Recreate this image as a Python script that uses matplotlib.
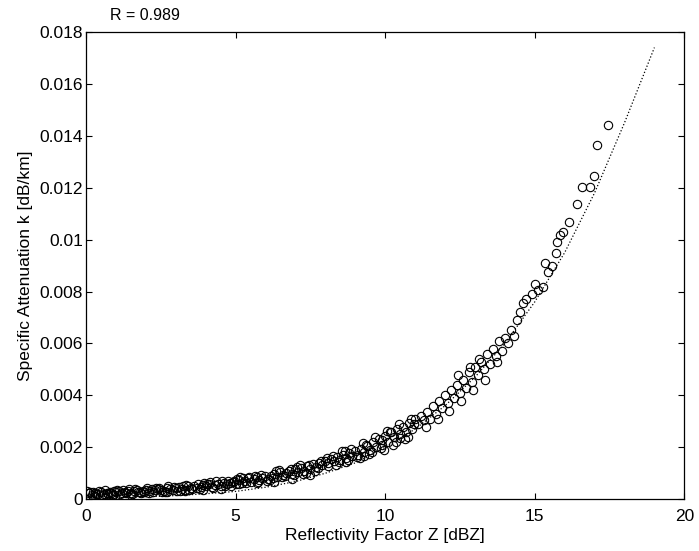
import matplotlib
matplotlib.use("Agg")
import matplotlib.pyplot as plt

plt.rcParams['font.family'] = ['Liberation Sans', 'DejaVu Sans']

z_obs = [0.1, 0.2, 0.3, 0.4, 0.5, 0.6, 0.7, 0.8, 0.9, 1.0, 1.1, 1.2, 1.3, 1.4, 1.5, 1.6, 1.7, 1.8, 1.9, 2.0,
         0.15, 0.35, 0.55, 0.75, 0.95, 1.15, 1.35, 1.55, 1.75, 1.95,
         2.1, 2.2, 2.3, 2.4, 2.5, 2.6, 2.7, 2.8, 2.9, 3.0, 3.1, 3.2, 3.3, 3.4, 3.5, 3.6, 3.7, 3.8, 3.9, 4.0,
         4.1, 4.2, 4.3, 4.4, 4.5, 4.6, 4.7, 4.8, 4.9, 5.0,
         2.25, 2.65, 3.05, 3.45, 3.85, 4.25, 4.65, 4.95, 2.45, 3.25, 4.05, 4.75,
         5.1, 5.2, 5.3, 5.4, 5.5, 5.6, 5.7, 5.8, 5.9, 6.0, 6.1, 6.2, 6.3, 6.4, 6.5, 6.6, 6.7, 6.8, 6.9, 7.0,
         7.1, 7.2, 7.3, 7.4, 7.5, 7.6, 7.7, 7.8, 7.9, 8.0,
         5.35, 5.75, 6.15, 6.55, 6.95, 7.35, 7.75, 5.15, 6.35, 7.15,
         8.1, 8.2, 8.3, 8.4, 8.5, 8.6, 8.7, 8.8, 8.9, 9.0, 9.1, 9.2, 9.3, 9.4, 9.5, 9.6, 9.7, 9.8, 9.9, 10.0,
         10.1, 10.2, 10.3, 10.4, 10.5, 10.6, 10.7, 10.8, 10.9, 11.0,
         8.35, 8.75, 9.15, 9.55, 9.95, 10.35, 10.75, 8.55, 9.35, 10.15, 10.85,
         11.1, 11.2, 11.3, 11.4, 11.5, 11.6, 11.7, 11.8, 11.9, 12.0, 12.1, 12.2, 12.3, 12.4, 12.5, 12.6,
         12.7, 12.8, 12.9, 13.0, 13.1, 13.2, 13.3, 13.4, 13.5, 13.6, 13.7, 13.8, 13.9, 14.0, 14.1, 14.2,
         11.35, 11.75, 12.15, 12.55, 12.95, 13.35, 13.75, 12.45, 12.85, 13.15,
         14.4, 14.5, 14.6, 14.7, 15.12, 15.28, 15.35, 15.45, 15.57, 15.72, 15.76, 15.85, 15.95, 16.13,
         16.41, 16.58, 16.86, 16.97, 17.08, 17.46, 14.3, 14.9, 15.0]
k_obs = [0.00022, 0.00018, 0.00025, 0.0002, 0.00027, 0.00021, 0.00024, 0.00029, 0.0002, 0.00026,
         0.00031, 0.00023, 0.00028, 0.00033, 0.00025, 0.0003, 0.00035, 0.00027, 0.00032, 0.00036,
         0.00028, 0.0002, 0.00017, 0.00021, 0.00033, 0.00019, 0.00024, 0.0002, 0.00026, 0.00028,
         0.0003, 0.00038, 0.00034, 0.00041, 0.00036, 0.00032, 0.00044, 0.00039, 0.00035, 0.00042,
         0.00047, 0.0004, 0.00037, 0.00049, 0.00044, 0.00052, 0.00045, 0.00041, 0.00055, 0.0005,
         0.00058, 0.00046, 0.00054, 0.0006, 0.00052, 0.00064, 0.00057, 0.00062, 0.00068, 0.00059,
         0.00027, 0.00029, 0.00033, 0.00036, 0.00046, 0.00043, 0.0005, 0.00072, 0.00045, 0.00051, 0.0006, 0.00071,
         0.00075, 0.00064, 0.0007, 0.00081, 0.00068, 0.00077, 0.00086, 0.00073, 0.00082, 0.00091,
         0.00078, 0.0009, 0.00098, 0.00085, 0.00104, 0.00093, 0.001, 0.0011, 0.00097, 0.00115,
         0.00105, 0.00122, 0.0011, 0.00128, 0.00118, 0.00135, 0.00125, 0.00141, 0.00132, 0.00148,
         0.00062, 0.00066, 0.00075, 0.00084, 0.00092, 0.00102, 0.0012, 0.00085, 0.0011, 0.0013,
         0.0014, 0.00155, 0.00146, 0.00162, 0.0015, 0.00172, 0.00158, 0.00178, 0.00165, 0.00185,
         0.0017, 0.00195, 0.0018, 0.00205, 0.0019, 0.0022, 0.002, 0.00232, 0.0021, 0.00245,
         0.0022, 0.00258, 0.00238, 0.0027, 0.0025, 0.0028, 0.0026, 0.00295, 0.00272, 0.0031,
         0.0013, 0.0015, 0.0016, 0.0018, 0.0019, 0.0022, 0.0024, 0.00185, 0.0021, 0.0026, 0.0031,
         0.0029, 0.0032, 0.00305, 0.00335, 0.0031, 0.0036, 0.0033, 0.0038, 0.0035, 0.004, 0.0037, 0.0042,
         0.0039, 0.0044, 0.0041, 0.0046, 0.0043, 0.0049, 0.0045, 0.0051, 0.0048, 0.0053, 0.005, 0.0056,
         0.0052, 0.0058, 0.0055, 0.0061, 0.0057, 0.0062, 0.006, 0.0065,
         0.0028, 0.0031, 0.0034, 0.0038, 0.0042, 0.0046, 0.0053, 0.0048, 0.0051, 0.0054,
         0.0069, 0.0072, 0.00755, 0.0077, 0.00806, 0.00818, 0.0091, 0.00876, 0.009, 0.00948,
         0.00992, 0.01018, 0.0103, 0.01069, 0.01137, 0.01201, 0.01204, 0.01245, 0.01364, 0.01442,
         0.0063, 0.0079, 0.0083]

# more of the dense low band (x < 11)
z_obs_low = [0.05, 0.25, 0.45, 0.65, 0.85, 1.05, 1.25, 1.45, 1.65, 1.85, 2.05, 2.35, 2.55, 2.75, 2.95,
             3.15, 3.35, 3.55, 3.75, 3.95, 4.15, 4.35, 4.55, 4.85, 5.05, 5.25, 5.45, 5.65, 5.85, 6.05,
             6.25, 6.45, 6.65, 6.85, 7.05, 7.25, 7.45, 7.65, 7.85, 8.05, 8.25, 8.45, 8.65, 8.85, 9.05,
             9.25, 9.45, 9.65, 9.85, 10.05, 10.25, 10.45, 10.65, 10.95,
             0.3, 0.9, 1.5, 2.1, 2.7, 3.3, 3.9, 4.5, 5.1, 5.7, 6.3, 6.9, 7.5, 8.1, 8.7, 9.3, 9.9, 10.5]
k_obs_low = [0.00031, 0.00029, 0.00033, 0.00035, 0.00025, 0.00037, 0.00034, 0.00038, 0.0004, 0.00022,
             0.00043, 0.00045, 0.00028, 0.0005, 0.00047, 0.00031, 0.00053, 0.00039, 0.00058, 0.00061,
             0.00066, 0.0007, 0.00072, 0.00049, 0.00079, 0.00082, 0.00087, 0.00089, 0.00095, 0.00071,
             0.0008, 0.00112, 0.00088, 0.00118, 0.00125, 0.00098, 0.00133, 0.00108, 0.00146, 0.00158,
             0.00168, 0.00143, 0.00185, 0.00193, 0.00162, 0.00215, 0.00175, 0.00238, 0.00196, 0.00262,
             0.0021, 0.00288, 0.00232, 0.0029,
             0.00014, 0.00016, 0.00018, 0.00023, 0.00026, 0.0003, 0.00036, 0.00041, 0.0006, 0.00063,
             0.00068, 0.00078, 0.00094, 0.00128, 0.00142, 0.00168, 0.0023, 0.00235]

# fitted relation (dotted curve)
z_fit = [0, 1, 2, 3, 4, 5, 6, 7, 8, 9, 10, 11, 12, 13, 14, 15, 16, 17, 18, 19]
k_fit = [0.00004, 0.00006, 0.00009, 0.00014, 0.00021, 0.0003, 0.00046, 0.00068, 0.001, 0.0014,
         0.002, 0.0027, 0.0036, 0.0047, 0.006, 0.0076, 0.0095, 0.0118, 0.0145, 0.0174]

fig = plt.figure(figsize=(6.99, 5.51), dpi=100)
ax = fig.add_axes([0.123, 0.094, 0.856, 0.848])

ax.plot(z_obs + z_obs_low, k_obs + k_obs_low, 'o', mfc='none', mec='black', ms=6, mew=0.8)
ax.plot(z_fit, k_fit, ':', color='black', lw=0.9)

ax.set_xlim(0, 20)
ax.set_ylim(0, 0.018)
ax.set_xticks([0, 5, 10, 15, 20])
yt = [0, 0.002, 0.004, 0.006, 0.008, 0.01, 0.012, 0.014, 0.016, 0.018]
ax.set_yticks(yt)
ax.set_yticklabels(['0' if v == 0 else ('%g' % v) for v in yt])
ax.tick_params(direction='in', top=True, right=True, labelsize=12.5, length=4, width=0.8, pad=2)
ax.tick_params(axis='x', pad=7)
for s in ax.spines.values():
    s.set_linewidth(0.9)

ax.set_xlabel('Reflectivity Factor Z [dBZ]', fontsize=12.5, labelpad=3)
ax.set_ylabel('Specific Attenuation k [dB/km]', fontsize=12.5, labelpad=5)
ax.text(0.04, 1.02, 'R = 0.989', transform=ax.transAxes, fontsize=11.5, va='bottom', ha='left')

fig.savefig('out.png', dpi=100)
